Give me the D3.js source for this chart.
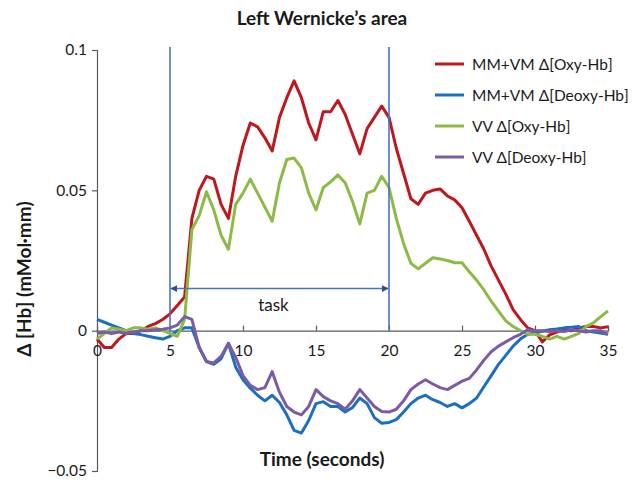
<!DOCTYPE html>
<html lang="en">
<head>
<meta charset="utf-8">
<title>Left Wernicke's area</title>
<style>
  body { margin: 0; background: #fff; }
  svg text { font-family: Lato, "Open Sans", sans-serif; fill: #1a1a1a; }
</style>
</head>
<body>
<script src="https://d3js.org/d3.v7.min.js"></script>
<script>
// time axis, one reading every 0.5 s
const time = d3.range(0, 35.01, 0.5);

const mmvmOxy = [-0.003, -0.006, -0.006, -0.003, -0.001, -0.001, 0.000, 0.0015, 0.0025, 0.004,
  0.006, 0.009, 0.012, 0.040, 0.050, 0.055, 0.054, 0.045, 0.040, 0.055,
  0.066, 0.074, 0.0726, 0.0687, 0.064, 0.076, 0.083, 0.089, 0.083, 0.074,
  0.068, 0.078, 0.078, 0.082, 0.077, 0.070, 0.063, 0.072, 0.076, 0.080,
  0.076, 0.065, 0.056, 0.047, 0.045, 0.049, 0.050, 0.0505, 0.048, 0.0466,
  0.0438, 0.039, 0.034, 0.029, 0.023, 0.018, 0.013, 0.0075, 0.004, 0.001,
  0.000, -0.004, -0.0015, -0.0005, 0.0003, 0.000, 0.001, 0.0015, 0.0015, 0.001, 0.0014];

const mmvmDeoxy = [0.004, 0.003, 0.002, 0.001, 0.000, -0.001, -0.0014, -0.002, -0.0025, -0.003,
  -0.002, 0.000, 0.001, 0.001, -0.006, -0.011, -0.012, -0.010, -0.0045, -0.013,
  -0.0175, -0.0205, -0.023, -0.025, -0.023, -0.0256, -0.030, -0.0355, -0.0365, -0.032,
  -0.026, -0.0253, -0.027, -0.027, -0.029, -0.0274, -0.024, -0.026, -0.031, -0.033,
  -0.0327, -0.0317, -0.029, -0.026, -0.024, -0.023, -0.0246, -0.0256, -0.027, -0.026,
  -0.0275, -0.026, -0.024, -0.020, -0.016, -0.012, -0.0088, -0.0055, -0.003, -0.0013,
  -0.0008, -0.0002, 0.0003, 0.0006, 0.001, 0.0012, 0.0015, 0.000, -0.0005, -0.0008, -0.0013];

const vvOxy = [-0.003, -0.001, 0.001, 0.0005, 0.000, 0.001, 0.001, 0.0005, 0.001, 0.000,
  -0.001, -0.002, 0.004, 0.036, 0.041, 0.0495, 0.043, 0.034, 0.029, 0.045,
  0.049, 0.054, 0.049, 0.044, 0.039, 0.0527, 0.061, 0.0615, 0.058, 0.049,
  0.043, 0.051, 0.053, 0.0555, 0.0527, 0.046, 0.038, 0.049, 0.050, 0.055,
  0.051, 0.040, 0.031, 0.024, 0.022, 0.024, 0.026, 0.0255, 0.025, 0.0242,
  0.0242, 0.021, 0.018, 0.0145, 0.0105, 0.007, 0.0035, 0.0015, 0.000, -0.0013,
  -0.0013, -0.002, -0.003, -0.002, -0.003, -0.002, -0.001, 0.0015, 0.0028, 0.005, 0.007];

const vvDeoxy = [-0.001, -0.0005, -0.001, -0.0005, -0.001, -0.0005, 0.000, 0.000, 0.0003, 0.0005,
  0.001, 0.002, 0.005, 0.004, -0.006, -0.011, -0.0115, -0.0092, -0.0045, -0.0095,
  -0.016, -0.0195, -0.021, -0.0203, -0.0146, -0.022, -0.027, -0.029, -0.030, -0.027,
  -0.021, -0.0235, -0.025, -0.026, -0.028, -0.025, -0.021, -0.024, -0.027, -0.0288,
  -0.029, -0.028, -0.025, -0.021, -0.019, -0.0175, -0.019, -0.0203, -0.021, -0.0195,
  -0.018, -0.017, -0.014, -0.0105, -0.0075, -0.0055, -0.004, -0.0025, -0.0013, 0.0003,
  0.000, 0.000, -0.0003, 0.000, -0.0003, 0.0003, 0.000, -0.0005, 0.000, 0.000, -0.0013];

const seriesNames = ["MM+VM \u0394[Oxy-Hb]", "MM+VM \u0394[Deoxy-Hb]", "VV \u0394[Oxy-Hb]", "VV \u0394[Deoxy-Hb]"];
const seriesValues = [mmvmOxy, mmvmDeoxy, vvOxy, vvDeoxy];
const seriesColors = ["#c0161d", "#1a6fc4", "#8cbb45", "#7c5ba6"];

const xTicks = [0, 5, 10, 15, 20, 25, 30, 35];
const yTicks = [-0.05, 0, 0.05, 0.1];
const taskStart = 5, taskEnd = 20;

const width = 632, height = 481;

const svg = d3.select("body").append("svg")
    .attr("width", width)
    .attr("height", height);

const x = d3.scaleLinear().domain([0, 35]).range([97, 608]);
const y = d3.scaleLinear().domain([-0.05, 0.1]).range([471, 50]);

// title
svg.append("text")
    .attr("x", 322).attr("y", 25)
    .attr("text-anchor", "middle")
    .attr("font-size", 19).attr("font-weight", "bold")
    .text("Left Wernicke\u2019s area");

// y axis
const yAxis = svg.append("g")
    .attr("transform", `translate(${x(0)},0)`)
    .call(d3.axisLeft(y).tickValues(yTicks).tickSize(5).tickPadding(5)
        .tickFormat(d => d === 0 ? "0" : (d < 0 ? "\u22120.05" : d3.format("~g")(d))));
yAxis.select(".domain").attr("stroke", "#595959").attr("stroke-width", 1.2);
yAxis.selectAll(".tick line").attr("stroke", "#595959").attr("stroke-width", 1.2);
yAxis.selectAll(".tick text").attr("font-size", 15.5).attr("font-family", "Lato, sans-serif").attr("fill", "#1a1a1a");

// x axis at zero, ticks pointing up
const xAxis = svg.append("g")
    .attr("transform", `translate(0,${y(0)})`)
    .call(d3.axisBottom(x).tickValues(xTicks).tickSize(-5).tickPadding(14).tickFormat(d3.format("d")));
xAxis.select(".domain").attr("stroke", "#595959").attr("stroke-width", 1.2);
xAxis.selectAll(".tick line").attr("stroke", "#595959").attr("stroke-width", 1.2)
    .filter(d => d === 0).remove();
xAxis.selectAll(".tick text").attr("font-size", 15.5).attr("font-family", "Lato, sans-serif").attr("fill", "#1a1a1a");

// axis titles
svg.append("text")
    .attr("transform", `translate(31,${279}) rotate(-90)`)
    .attr("text-anchor", "middle")
    .attr("font-size", 19).attr("font-weight", "bold")
    .text("\u0394 [Hb] (mMol\u00b7mm)");

svg.append("text")
    .attr("x", 322).attr("y", 466)
    .attr("text-anchor", "middle")
    .attr("font-size", 19).attr("font-weight", "bold")
    .text("Time (seconds)");

// series
const line = d3.line()
    .x((d, i) => x(time[i]))
    .y(d => y(d));

svg.append("g").selectAll("path")
    .data(seriesValues)
    .join("path")
    .attr("fill", "none")
    .attr("stroke", (d, i) => seriesColors[i])
    .attr("stroke-width", 3)
    .attr("stroke-linejoin", "round")
    .attr("d", line);

// task markers
const marker = svg.append("defs");
marker.append("marker")
    .attr("id", "arrow")
    .attr("viewBox", "0 0 10 10")
    .attr("refX", 9).attr("refY", 5)
    .attr("markerWidth", 7).attr("markerHeight", 7)
    .attr("markerUnits", "userSpaceOnUse")
    .attr("orient", "auto-start-reverse")
    .append("path")
    .attr("d", "M0,0 L10,5 L0,10 Z")
    .attr("fill", "#2a4fa0");

svg.append("g").selectAll("line")
    .data([taskStart, taskEnd])
    .join("line")
    .attr("x1", d => x(d)).attr("x2", d => x(d))
    .attr("y1", 47).attr("y2", y(0))
    .attr("stroke", "#4a72c4")
    .attr("stroke-width", 1.6);

svg.append("line")
    .attr("x1", x(taskStart) + 1).attr("x2", x(taskEnd) - 1)
    .attr("y1", y(0.015)).attr("y2", y(0.015))
    .attr("stroke", "#4a72c4")
    .attr("stroke-width", 1.6)
    .attr("marker-start", "url(#arrow)")
    .attr("marker-end", "url(#arrow)");

svg.append("text")
    .attr("x", (x(taskStart) + x(taskEnd)) / 2 - 6)
    .attr("y", y(0.015) + 22)
    .attr("text-anchor", "middle")
    .attr("font-size", 17)
    .text("task");

// legend
const legend = svg.append("g")
    .selectAll("g")
    .data(seriesNames)
    .join("g")
    .attr("transform", (d, i) => `translate(435,${64 + i * 31})`);

legend.append("line")
    .attr("x1", 0).attr("x2", 29)
    .attr("stroke", (d, i) => seriesColors[i])
    .attr("stroke-width", 3);

legend.append("text")
    .attr("x", 37).attr("y", 5.5)
    .attr("font-size", 15.5)
    .text(d => d);
</script>
</body>
</html>
